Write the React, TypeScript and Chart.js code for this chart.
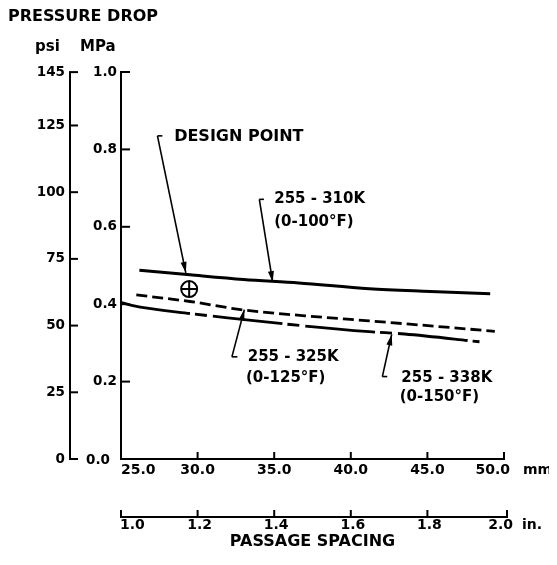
import { useEffect, useRef } from "react";
import { Chart, registerables } from "chart.js";
Chart.register(...registerables);

// ---- data (passage spacing in mm, pressure drop in MPa) ----
const spacingMm310 = [26.2, 29.5, 33.0, 36.6, 41.2, 45.2, 49.1];
const dropMpa310 = [0.488, 0.476, 0.464, 0.455, 0.44, 0.433, 0.427];

const spacingMm325 = [26.0, 29.5, 33.0, 37.0, 41.2, 45.2, 49.4];
const dropMpa325 = [0.424, 0.407, 0.385, 0.37, 0.357, 0.344, 0.33];

const spacingMm338 = [25.0, 25.7, 29.7, 32.9, 36.9, 41.2, 43.5, 48.4];
const dropMpa338 = [0.405, 0.397, 0.375, 0.361, 0.344, 0.329, 0.323, 0.303];

const designMm = [29.45];
const designMpa = [0.439];

// ---- axes ----
const mpaTicks = [0, 0.2, 0.4, 0.6, 0.8, 1.0];
const mpaLabels = ["0.0", "0.2", "0.4", "0.6", "0.8", "1.0"];
const psiTicks = [0, 25, 50, 75, 100, 125, 145];
const mmTicks = [25, 30, 35, 40, 45, 50];
const mmLabels = ["25.0", "30.0", "35.0", "40.0", "45.0", "50.0"];
const inchTicks = [1.0, 1.2, 1.4, 1.6, 1.8, 2.0];
const inchLabels = ["1.0", "1.2", "1.4", "1.6", "1.8", "2.0"];

const curveLabels = [
  ["255 - 310K", "(0-100°F)"],
  ["255 - 325K", "(0-125°F)"],
  ["255 - 338K", "(0-150°F)"],
];

const pts = (xs: number[], ys: number[]) => xs.map((x, i) => ({ x, y: ys[i] }));

const FONT = '"DejaVu Sans", "Liberation Sans", Arial, sans-serif';

const decorPlugin = {
  id: "decor",
  afterDraw(chart: any) {
    const ctx = chart.ctx as CanvasRenderingContext2D;
    const ca = chart.chartArea;
    const sx = chart.scales.x;
    const sy = chart.scales.y;
    const sIn = chart.scales.inch;
    const sPsi = chart.scales.psi;
    const L = ca.left, R = ca.right, T = ca.top, B = ca.bottom;
    const px = (v: number) => sx.getPixelForValue(v);
    const py = (v: number) => sy.getPixelForValue(v);

    ctx.save();
    ctx.fillStyle = "#000";
    ctx.strokeStyle = "#000";
    ctx.lineCap = "butt";

    const text = (s: string, x: number, y: number, size: number, align: CanvasTextAlign = "left") => {
      ctx.font = `bold ${size}px ${FONT}`;
      ctx.textAlign = align;
      ctx.textBaseline = "middle";
      ctx.fillText(s, x, y);
    };
    const line = (x1: number, y1: number, x2: number, y2: number, w: number) => {
      ctx.lineWidth = w;
      ctx.beginPath();
      ctx.moveTo(x1, y1);
      ctx.lineTo(x2, y2);
      ctx.stroke();
    };

    // titles
    text("PRESSURE DROP", L - 113, T - 55, 16);
    text("psi", L - 86, T - 25, 15);
    text("MPa", L - 41, T - 25, 15);

    // psi axis
    const psiX = L - 51;
    line(psiX, T, psiX, B + 1, 2);
    psiTicks.forEach((v) => {
      const y = sPsi.getPixelForValue(v);
      line(psiX - 1, y, psiX + 8, y, 2);
      text(String(v), psiX - 5, y, 13.5, "right");
    });

    // MPa axis
    line(L, T, L, B + 1, 2);
    mpaTicks.forEach((v, i) => {
      const y = py(v);
      line(L - 1, y, L + 9, y, 2);
      if (i === 0) text(mpaLabels[i], L - 11, y + 1, 13.5, "right");
      else text(mpaLabels[i], L - 4, y, 13.5, "right");
    });

    // mm axis
    line(L - 1, B, R + 1, B, 2);
    mmTicks.forEach((v, i) => {
      const x = px(v);
      line(x, B + 1, x, B - 7, 2);
      if (i === 0) text(mmLabels[i], x, B + 11, 14, "left");
      else if (i === mmTicks.length - 1) text(mmLabels[i], x + 6, B + 11, 14, "right");
      else text(mmLabels[i], x, B + 11, 14, "center");
    });
    text("mm", R + 19, B + 11, 14);

    // inch axis
    const inY = B + 58;
    line(L, inY, R + 3, inY, 2);
    inchTicks.forEach((v, i) => {
      const x = sIn.getPixelForValue(v) + (i === inchTicks.length - 1 ? 3 : 0);
      line(x, inY + 1, x, inY - 7, 2);
      if (i === 0) text(inchLabels[i], x - 1, inY + 8, 14, "left");
      else if (i === inchTicks.length - 1) text(inchLabels[i], x + 6, inY + 8, 14, "right");
      else text(inchLabels[i], x + 2, inY + 8, 14, "center");
    });
    text("in.", R + 18, inY + 8, 14);
    text("PASSAGE SPACING", (L + R) / 2, B + 83, 16, "center");

    // leaders with arrowheads
    const arrow = (sxv: number, syv: number, stub: number, txv: number, tyv: number) => {
      const x0 = px(sxv), y0 = py(syv), x1 = px(txv), y1 = py(tyv);
      const xs = px(stub);
      line(x0, y0, xs, y0, 1.6);
      line(x0, y0, x1, y1, 1.6);
      const ang = Math.atan2(y1 - y0, x1 - x0);
      const len = 11, hw = 3;
      ctx.beginPath();
      ctx.moveTo(x1, y1);
      ctx.lineTo(x1 - len * Math.cos(ang) + hw * Math.sin(ang), y1 - len * Math.sin(ang) - hw * Math.cos(ang));
      ctx.lineTo(x1 - len * Math.cos(ang) - hw * Math.sin(ang), y1 - len * Math.sin(ang) + hw * Math.cos(ang));
      ctx.closePath();
      ctx.fill();
    };

    // design point label
    text("DESIGN POINT", px(28.47), py(0.832), 16);
    arrow(27.38, 0.835, 27.7, 29.23, 0.481);

    // curve labels
    text(curveLabels[0][0], px(35.0), py(0.672), 15);
    text(curveLabels[0][1], px(35.0), py(0.613), 15);
    arrow(34.03, 0.671, 34.33, 34.9, 0.457);

    text(curveLabels[1][0], px(33.27), py(0.263), 15);
    text(curveLabels[1][1], px(33.16), py(0.2085), 15);
    arrow(32.24, 0.264, 32.6, 33.05, 0.386);

    text(curveLabels[2][0], px(43.3), py(0.2085), 15);
    text(curveLabels[2][1], px(43.19), py(0.159), 15);
    arrow(42.06, 0.213, 42.38, 42.67, 0.322);

    ctx.restore();
  },
};

export default function App() {
  const ref = useRef<HTMLCanvasElement | null>(null);
  useEffect(() => {
    if (!ref.current) return;
    const common = { pointRadius: 0, borderColor: "#000", fill: false, clip: false as any, cubicInterpolationMode: "monotone" as const };
    const chart = new Chart(ref.current, {
      type: "line",
      data: {
        datasets: [
          { ...common, label: "255 - 310K", data: pts(spacingMm310, dropMpa310), borderWidth: 3 },
          { ...common, label: "255 - 325K", data: pts(spacingMm325, dropMpa325), borderWidth: 2.8, borderDash: [11, 5] },
          { ...common, label: "255 - 338K", data: pts(spacingMm338, dropMpa338), borderWidth: 2.8, borderDash: [70, 5, 12, 6] },
          {
            label: "Design point",
            data: pts(designMm, designMpa),
            showLine: false,
            pointStyle: "circle",
            pointRadius: 8,
            pointBorderWidth: 2,
            pointBorderColor: "#000",
            pointBackgroundColor: "rgba(0,0,0,0)",
            borderColor: "#000",
            clip: false as any,
          },
          {
            label: "Design point cross",
            data: pts(designMm, designMpa),
            showLine: false,
            pointStyle: "cross",
            pointRadius: 8,
            pointBorderWidth: 2,
            pointBorderColor: "#000",
            borderColor: "#000",
            clip: false as any,
          },
        ],
      },
      options: {
        responsive: false,
        animation: false,
        events: [],
        layout: { padding: { left: 113, top: 64, right: 53, bottom: 98 } },
        plugins: { legend: { display: false }, tooltip: { enabled: false } },
        scales: {
          x: { type: "linear", min: 25, max: 50, display: false },
          y: { type: "linear", min: 0, max: 1, display: false },
          inch: { type: "linear", axis: "x", min: 1, max: 2, display: false },
          psi: { type: "linear", axis: "y", min: 0, max: 145.04, display: false },
        },
      },
      plugins: [decorPlugin],
    });
    return () => chart.destroy();
  }, []);
  return (
    <div style={{ width: 549, height: 549, background: "#fff" }}>
      <canvas ref={ref} width={549} height={549} style={{ display: "block" }} />
    </div>
  );
}
